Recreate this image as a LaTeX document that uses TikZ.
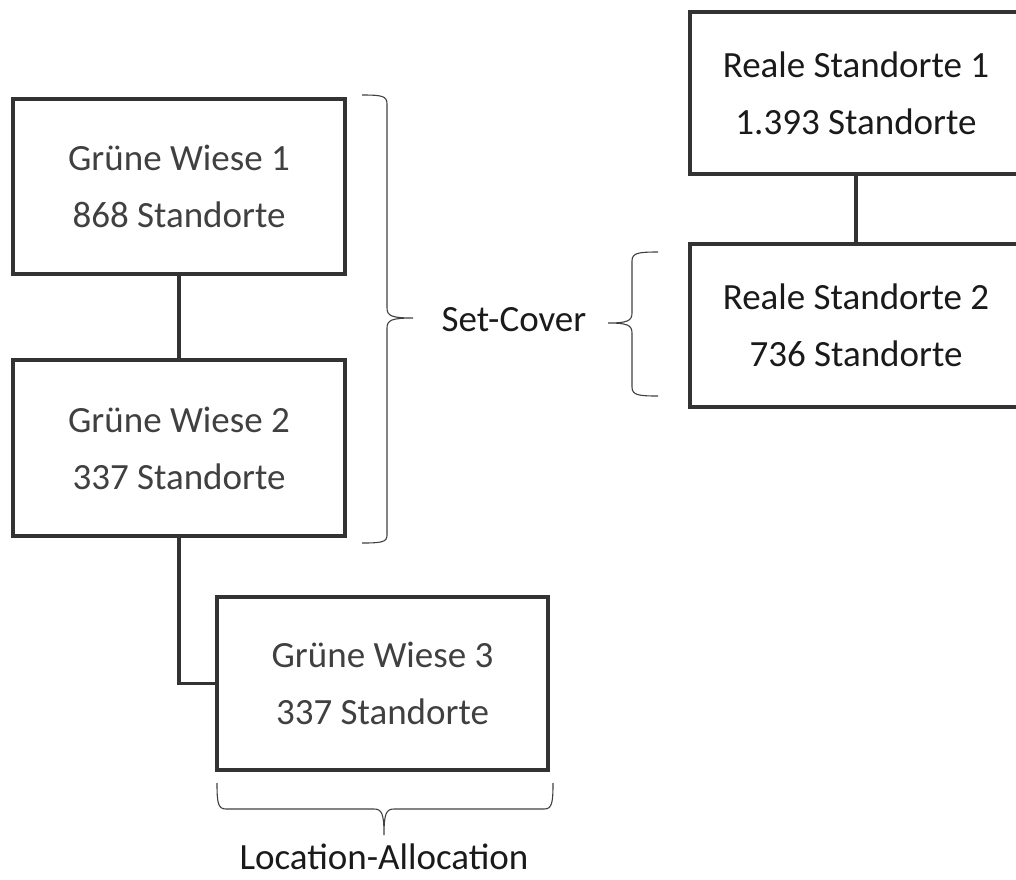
\documentclass[tikz,border=0pt]{standalone}
\usepackage{fontspec}
\setmainfont{Carlito}
\definecolor{gtxt}{HTML}{404040}
\definecolor{rtxt}{HTML}{1A1A1A}
\definecolor{bline}{HTML}{333333}
\begin{document}
\begin{tikzpicture}[x=1pt,y=1pt,
  box/.style={draw=bline,line width=3.2pt,rectangle,minimum width=332pt,align=center,
    font=\fontsize{37}{57}\selectfont,inner sep=0pt},
  gbox/.style={box,text=gtxt},
  rbox/.style={box,text=rtxt},
  conn/.style={draw=bline,line width=3.2pt},
  brc/.style={draw=gtxt,line width=1.1pt},
  lbl/.style={font=\fontsize{37}{40}\selectfont,text=rtxt,inner sep=0pt}]
\useasboundingbox (0,0) rectangle (1016,-879);
\clip (0,0) rectangle (1016,-879);
\node[gbox,minimum height=175pt] (gw1) at (179,-186.5) {Grüne Wiese 1\\868 Standorte};
\node[gbox,minimum height=176pt] (gw2) at (179,-448) {Grüne Wiese 2\\337 Standorte};
\node[gbox,minimum width=331pt,minimum height=173pt] (gw3) at (382.5,-683.5) {Grüne Wiese 3\\337 Standorte};
\node[rbox,minimum height=162pt] (r1) at (856,-93) {Reale Standorte 1\\1.393 Standorte};
\node[rbox,minimum height=163pt] (r2) at (856,-325.5) {Reale Standorte 2\\736 Standorte};
\draw[conn] (gw1.south) -- (gw2.north);
\draw[conn] (gw2.south) |- (gw3.west);
\draw[conn] (r1.south) -- (r2.north);
\node[lbl] (sc) at (514,-320) {Set-Cover};
\node[lbl] (la) at (384,-857) {Location-Allocation};
% right brace (left group)
\draw[brc] (362,-95) .. controls (382,-95) and (387,-96) .. (387,-104) -- (387,-308)
  .. controls (387,-316) and (392,-318) .. (413,-318)
  .. controls (392,-318) and (387,-320) .. (387,-328) -- (387,-535)
  .. controls (387,-542) and (382,-543) .. (362,-543);
% left brace (right group)
\draw[brc] (658,-252) .. controls (638,-252) and (632,-253) .. (632,-261) -- (632,-313)
  .. controls (632,-321) and (627,-323) .. (608,-323)
  .. controls (627,-323) and (632,-325) .. (632,-333) -- (632,-387)
  .. controls (632,-395) and (638,-396) .. (658,-396);
% bottom brace
\draw[brc] (217,-783) .. controls (217,-803) and (218,-809) .. (226,-809) -- (374,-809)
  .. controls (382,-809) and (384,-814) .. (384,-835)
  .. controls (384,-814) and (386,-809) .. (394,-809) -- (544,-809)
  .. controls (552,-809) and (553,-803) .. (553,-783);
\end{tikzpicture}
\end{document}
